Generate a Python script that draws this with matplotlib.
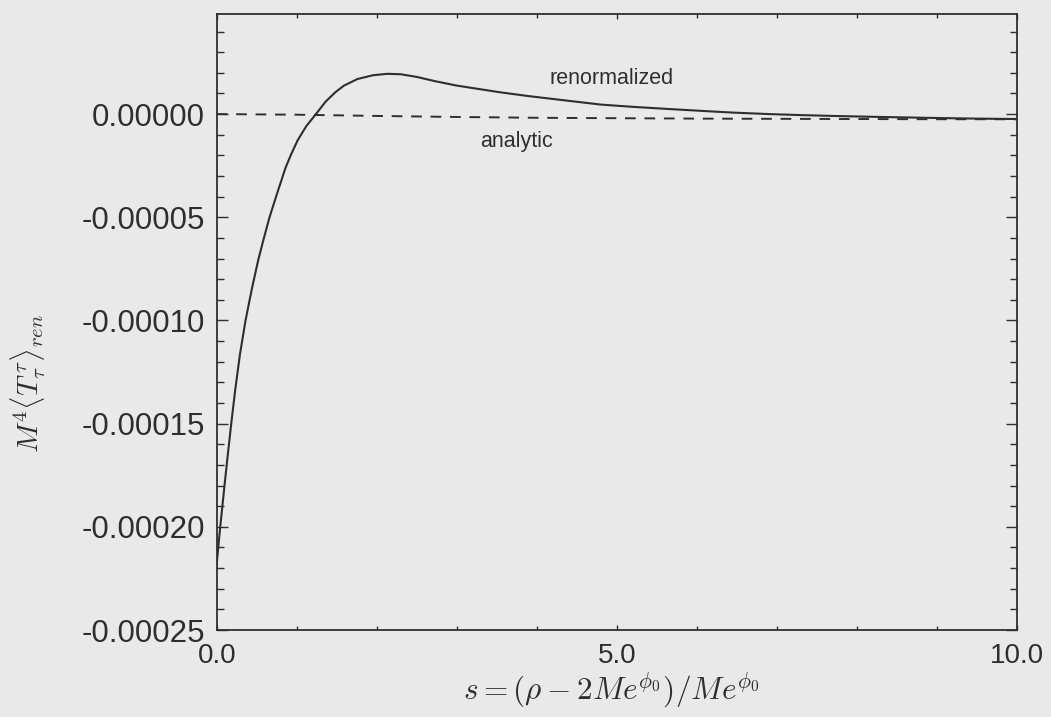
import matplotlib
matplotlib.use("Agg")
import matplotlib.pyplot as plt
from matplotlib.ticker import MultipleLocator, FixedLocator, FuncFormatter

# ---- data ----
s_ren = [0.00, 0.03, 0.06, 0.10, 0.14, 0.18, 0.23, 0.29, 0.36, 0.44, 0.52, 0.59,
         0.66, 0.75, 0.86, 0.93, 1.01, 1.12, 1.24, 1.36, 1.48, 1.59, 1.76, 1.95,
         2.13, 2.30, 2.50, 2.72, 3.00, 3.30, 3.55, 3.90, 4.38, 4.80, 5.20, 5.63,
         6.17, 6.46, 6.90, 7.30, 7.80, 8.30, 9.00, 9.50, 10.0]
t_ren = [-2.18e-4, -2.055e-4, -1.94e-4, -1.79e-4, -1.645e-4, -1.505e-4, -1.34e-4,
         -1.165e-4, -1.00e-4, -8.45e-5, -7.05e-5, -6.0e-5, -5.0e-5, -3.9e-5,
         -2.6e-5, -1.95e-5, -1.28e-5, -5.8e-6, 0.0, 6.0e-6, 1.05e-5, 1.38e-5,
         1.70e-5, 1.88e-5, 1.95e-5, 1.93e-5, 1.80e-5, 1.60e-5, 1.38e-5, 1.20e-5,
         1.05e-5, 8.7e-6, 6.5e-6, 4.6e-6, 3.5e-6, 2.5e-6, 1.3e-6, 7e-7, 0.0,
         -5e-7, -1.0e-6, -1.4e-6, -1.9e-6, -2.2e-6, -2.4e-6]

s_ana = [0, 1, 2, 3, 4, 5, 6, 7, 8, 9, 10]
t_ana = [0.0, -3e-7, -9e-7, -1.4e-6, -1.8e-6, -2.0e-6, -2.2e-6, -2.3e-6,
         -2.4e-6, -2.5e-6, -2.5e-6]

x_major = [0.0, 5.0, 10.0]
y_major = [0.0, -0.00005, -0.00010, -0.00015, -0.00020, -0.00025]

label_ren = "renormalized"
label_ana = "analytic"
xlabel = r"$s = (\rho - 2Me^{\phi_0})/Me^{\phi_0}$"
ylabel = r"$M^4\langle T_\tau^{\,\tau}\rangle_{ren}$"

# ---- style ----
bg = "#e9e9e9"
ink = "#2e2e2e"
plt.rcParams["mathtext.fontset"] = "cm"
plt.rcParams["font.family"] = ["Liberation Sans", "DejaVu Sans"]

fig = plt.figure(figsize=(10.51, 7.17), dpi=100, facecolor=bg)
ax = fig.add_axes([0.2062, 0.1213, 0.7615, 0.8592])
ax.set_facecolor(bg)

ax.plot(s_ren, t_ren, color=ink, lw=1.5, solid_capstyle="round", solid_joinstyle="round")
ax.plot(s_ana, t_ana, color=ink, lw=1.4, dashes=(5.5, 4.5))

ax.set_xlim(0, 10)
ax.set_ylim(-0.00025, 0.0000485)

ax.xaxis.set_major_locator(FixedLocator(x_major))
ax.xaxis.set_minor_locator(MultipleLocator(1.0))
ax.yaxis.set_major_locator(FixedLocator(y_major))
ax.yaxis.set_minor_locator(MultipleLocator(0.00001))
ax.xaxis.set_major_formatter(FuncFormatter(lambda v, p: f"{v:.1f}"))
ax.yaxis.set_major_formatter(FuncFormatter(lambda v, p: f"{v:.5f}" if abs(v) > 1e-12 else "0.00000"))

ax.tick_params(axis="both", which="both", direction="in", top=True, right=True,
               colors=ink, width=1.0)
ax.tick_params(axis="x", which="major", length=3.5, labelsize=20, pad=9)
ax.tick_params(axis="x", which="minor", length=3.2)
ax.tick_params(axis="y", which="major", length=8, labelsize=22.5, pad=8.5)
ax.tick_params(axis="y", which="minor", length=4.7)
for sp in ax.spines.values():
    sp.set_color(ink)
    sp.set_linewidth(1.3)

ax.text(4.93, 0.0000147, label_ren, fontsize=15.5, color=ink, ha="center", va="baseline")
ax.text(3.75, -0.0000161, label_ana, fontsize=15.5, color=ink, ha="center", va="baseline")

ax.set_xlabel(xlabel, fontsize=22.5, color=ink)
ax.xaxis.set_label_coords(0.4927, -0.066)
ax.set_ylabel(ylabel, fontsize=21, color=ink)
ax.yaxis.set_label_coords(-0.211, 0.40)

fig.savefig("out.png", dpi=100, facecolor=bg)
